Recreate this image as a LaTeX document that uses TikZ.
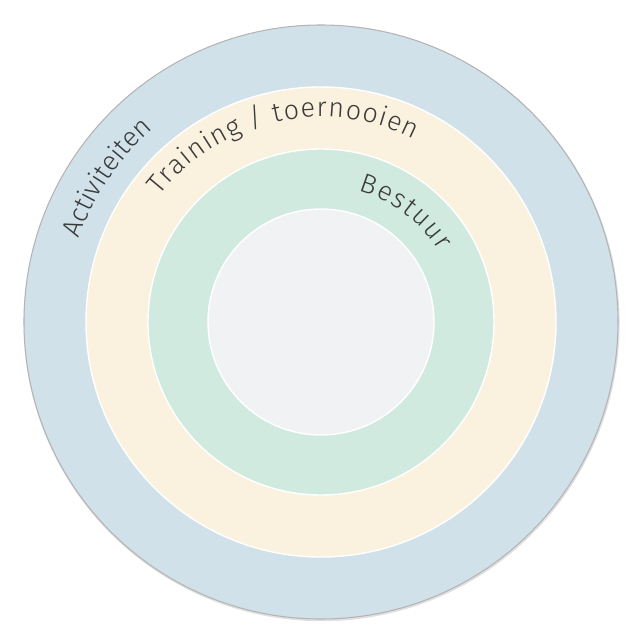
\documentclass[tikz,border=0pt]{standalone}
\usepackage{fontspec}
\newfontfamily\handfont{Fira Sans Light}
\usetikzlibrary{decorations.text}

\definecolor{ringblue}{HTML}{D0E1EA}
\definecolor{ringcream}{HTML}{FBF1DF}
\definecolor{ringgreen}{HTML}{D0EAE0}
\definecolor{ringcore}{HTML}{F1F2F4}
\definecolor{rimgray}{HTML}{B4B4B4}
\definecolor{inkgray}{HTML}{3A3A3A}

\begin{document}
\begin{tikzpicture}[
    x=0.03cm, y=0.03cm,
    ring/.style={draw=white, line width=1.2pt},
    ringlabel/.style={decorate, decoration={text along path, text align=fit to path,
        text color=inkgray, text={|\handfont\fontsize{23}{23}\selectfont|#1}}}
]
    \useasboundingbox (-321,-321) rectangle (322,322);
    % rings, outside in
    \fill[black!12] (0.6,-1.2) circle[radius=298];
    \draw[fill=ringblue, draw=rimgray, line width=0.9pt] (0,0) circle[radius=297];
    \draw[ring, fill=ringcream] (0,0) circle[radius=235];
    \draw[ring, fill=ringgreen] (0,0) circle[radius=173];
    \draw[ring, fill=ringcore] (0,0) circle[radius=113];
    % labels along the rings
    \path[ringlabel={Activiteiten}] (161:256) arc[start angle=161, end angle=131, radius=256];
    \path[ringlabel={Training / toernooien}] (142:205) arc[start angle=142, end angle=63, radius=205];
    \path[ringlabel={Bestuur}] (74:137) arc[start angle=74, end angle=31, radius=137];
\end{tikzpicture}
\end{document}
